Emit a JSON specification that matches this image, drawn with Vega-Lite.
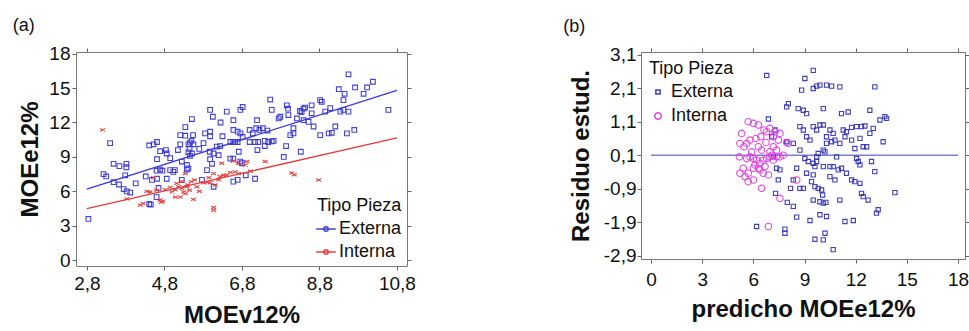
{
  "$schema": "https://vega.github.io/schema/vega-lite/v6.json",
  "background": "white",
  "padding": {"left": 12, "top": 16, "right": 2, "bottom": 0},
  "spacing": 146,
  "resolve": {"scale": {"color": "independent", "shape": "independent", "size": "independent"}, "legend": {"color": "independent", "shape": "independent", "size": "independent"}},
  "config": {
    "font": "Liberation Sans",
    "view": {"stroke": "#7a7a7a", "strokeWidth": 1},
    "axis": {
      "grid": false, "domain": false,
      "labelFont": "Liberation Sans", "labelFontSize": 19, "labelColor": "#111",
      "titleFont": "Liberation Sans", "titleFontSize": 24, "titleFontWeight": "bold", "titleColor": "#111",
      "tickColor": "#666", "tickSize": 4
    },
    "legend": {
      "titleFont": "Liberation Sans", "titleFontWeight": "normal", "titleFontSize": 18, "titleColor": "#111",
      "labelFont": "Liberation Sans", "labelFontSize": 18, "labelColor": "#111"
    },
    "title": {"font": "Liberation Sans", "fontSize": 18, "fontWeight": "normal", "color": "#111"}
  },
  "datasets": {
    "a": [
      {"x":2.84,"y":3.6,"tipo":"Externa"},{"x":3.40,"y":10.2,"tipo":"Externa"},{"x":3.23,"y":7.5,"tipo":"Externa"},{"x":3.30,"y":7.3,"tipo":"Externa"},
      {"x":3.49,"y":8.4,"tipo":"Externa"},{"x":3.64,"y":8.2,"tipo":"Externa"},{"x":3.82,"y":8.4,"tipo":"Externa"},{"x":3.82,"y":8.1,"tipo":"Externa"},
      {"x":3.49,"y":6.8,"tipo":"Externa"},{"x":3.63,"y":6.6,"tipo":"Externa"},{"x":3.75,"y":6.2,"tipo":"Externa"},{"x":3.83,"y":6.0,"tipo":"Externa"},
      {"x":3.92,"y":5.9,"tipo":"Externa"},{"x":3.79,"y":7.4,"tipo":"Externa"},{"x":4.06,"y":6.7,"tipo":"Externa"},{"x":4.32,"y":7.3,"tipo":"Externa"},
      {"x":4.41,"y":10.0,"tipo":"Externa"},{"x":4.52,"y":10.1,"tipo":"Externa"},{"x":4.61,"y":10.3,"tipo":"Externa"},{"x":4.69,"y":9.5,"tipo":"Externa"},
      {"x":4.84,"y":9.6,"tipo":"Externa"},{"x":4.86,"y":9.3,"tipo":"Externa"},{"x":4.61,"y":8.8,"tipo":"Externa"},{"x":4.69,"y":7.9,"tipo":"Externa"},
      {"x":4.60,"y":7.8,"tipo":"Externa"},{"x":4.75,"y":7.8,"tipo":"Externa"},{"x":4.61,"y":7.1,"tipo":"Externa"},{"x":4.48,"y":7.0,"tipo":"Externa"},
      {"x":4.65,"y":6.3,"tipo":"Externa"},{"x":4.41,"y":4.9,"tipo":"Externa"},{"x":4.45,"y":4.85,"tipo":"Externa"},{"x":4.60,"y":5.5,"tipo":"Externa"},
      {"x":4.95,"y":7.85,"tipo":"Externa"},{"x":5.03,"y":7.7,"tipo":"Externa"},{"x":5.07,"y":7.85,"tipo":"Externa"},{"x":4.86,"y":7.1,"tipo":"Externa"},
      {"x":5.21,"y":10.9,"tipo":"Externa"},{"x":5.34,"y":10.85,"tipo":"Externa"},{"x":5.21,"y":10.1,"tipo":"Externa"},{"x":5.34,"y":11.6,"tipo":"Externa"},
      {"x":5.51,"y":12.3,"tipo":"Externa"},{"x":5.42,"y":10.1,"tipo":"Externa"},{"x":5.46,"y":10.25,"tipo":"Externa"},{"x":5.50,"y":10.4,"tipo":"Externa"},
      {"x":5.55,"y":10.1,"tipo":"Externa"},{"x":5.54,"y":10.9,"tipo":"Externa"},{"x":5.42,"y":9.4,"tipo":"Externa"},{"x":5.51,"y":9.3,"tipo":"Externa"},
      {"x":5.45,"y":9.7,"tipo":"Externa"},{"x":5.46,"y":9.1,"tipo":"Externa"},{"x":5.38,"y":7.9,"tipo":"Externa"},{"x":5.42,"y":8.0,"tipo":"Externa"},
      {"x":5.38,"y":8.3,"tipo":"Externa"},{"x":5.25,"y":7.0,"tipo":"Externa"},{"x":5.85,"y":11.05,"tipo":"Externa"},{"x":5.98,"y":10.8,"tipo":"Externa"},
      {"x":5.98,"y":11.2,"tipo":"Externa"},{"x":5.81,"y":10.2,"tipo":"Externa"},{"x":5.98,"y":13.1,"tipo":"Externa"},{"x":6.05,"y":12.5,"tipo":"Externa"},
      {"x":5.97,"y":9.45,"tipo":"Externa"},{"x":6.07,"y":9.3,"tipo":"Externa"},{"x":6.20,"y":9.15,"tipo":"Externa"},{"x":5.98,"y":8.8,"tipo":"Externa"},
      {"x":6.03,"y":8.4,"tipo":"Externa"},{"x":6.15,"y":9.9,"tipo":"Externa"},{"x":6.24,"y":9.95,"tipo":"Externa"},{"x":5.90,"y":7.85,"tipo":"Externa"},
      {"x":5.77,"y":7.0,"tipo":"Externa"},{"x":6.07,"y":6.4,"tipo":"Externa"},{"x":6.41,"y":12.95,"tipo":"Externa"},{"x":6.58,"y":12.2,"tipo":"Externa"},
      {"x":6.76,"y":13.1,"tipo":"Externa"},{"x":6.82,"y":13.35,"tipo":"Externa"},{"x":6.58,"y":11.35,"tipo":"Externa"},{"x":6.69,"y":11.2,"tipo":"Externa"},
      {"x":6.50,"y":10.3,"tipo":"Externa"},{"x":6.58,"y":10.3,"tipo":"Externa"},{"x":6.63,"y":10.3,"tipo":"Externa"},{"x":6.69,"y":10.3,"tipo":"Externa"},
      {"x":6.76,"y":11.05,"tipo":"Externa"},{"x":6.82,"y":10.75,"tipo":"Externa"},{"x":6.50,"y":8.85,"tipo":"Externa"},{"x":6.58,"y":8.85,"tipo":"Externa"},
      {"x":6.76,"y":8.6,"tipo":"Externa"},{"x":6.80,"y":8.45,"tipo":"Externa"},{"x":6.72,"y":9.45,"tipo":"Externa"},{"x":6.58,"y":6.85,"tipo":"Externa"},
      {"x":6.69,"y":7.0,"tipo":"Externa"},{"x":7.00,"y":11.35,"tipo":"Externa"},{"x":7.08,"y":11.05,"tipo":"Externa"},{"x":7.17,"y":11.5,"tipo":"Externa"},
      {"x":7.25,"y":11.35,"tipo":"Externa"},{"x":7.34,"y":11.5,"tipo":"Externa"},{"x":7.46,"y":11.3,"tipo":"Externa"},{"x":7.19,"y":12.2,"tipo":"Externa"},
      {"x":7.00,"y":10.3,"tipo":"Externa"},{"x":7.14,"y":10.3,"tipo":"Externa"},{"x":7.22,"y":10.3,"tipo":"Externa"},{"x":7.39,"y":10.4,"tipo":"Externa"},
      {"x":7.48,"y":10.3,"tipo":"Externa"},{"x":7.57,"y":10.35,"tipo":"Externa"},{"x":7.62,"y":10.4,"tipo":"Externa"},{"x":7.39,"y":9.95,"tipo":"Externa"},
      {"x":7.14,"y":7.1,"tipo":"Externa"},{"x":7.53,"y":14.0,"tipo":"Externa"},{"x":7.57,"y":13.1,"tipo":"Externa"},{"x":7.96,"y":13.5,"tipo":"Externa"},
      {"x":7.99,"y":13.2,"tipo":"Externa"},{"x":7.79,"y":12.5,"tipo":"Externa"},{"x":7.75,"y":12.35,"tipo":"Externa"},{"x":8.00,"y":12.65,"tipo":"Externa"},
      {"x":8.05,"y":10.9,"tipo":"Externa"},{"x":8.13,"y":11.05,"tipo":"Externa"},{"x":7.94,"y":9.95,"tipo":"Externa"},{"x":7.88,"y":9.0,"tipo":"Externa"},
      {"x":8.22,"y":12.35,"tipo":"Externa"},{"x":8.30,"y":13.0,"tipo":"Externa"},{"x":8.34,"y":12.9,"tipo":"Externa"},{"x":8.39,"y":13.2,"tipo":"Externa"},
      {"x":8.43,"y":13.3,"tipo":"Externa"},{"x":8.13,"y":11.5,"tipo":"Externa"},{"x":8.39,"y":12.2,"tipo":"Externa"},{"x":8.52,"y":12.05,"tipo":"Externa"},
      {"x":8.32,"y":9.45,"tipo":"Externa"},{"x":8.60,"y":12.8,"tipo":"Externa"},{"x":8.65,"y":11.65,"tipo":"Externa"},{"x":8.60,"y":13.5,"tipo":"Externa"},
      {"x":8.82,"y":13.95,"tipo":"Externa"},{"x":8.86,"y":13.8,"tipo":"Externa"},{"x":8.82,"y":10.9,"tipo":"Externa"},{"x":9.04,"y":11.05,"tipo":"Externa"},
      {"x":9.12,"y":11.1,"tipo":"Externa"},{"x":8.95,"y":12.95,"tipo":"Externa"},{"x":9.08,"y":13.25,"tipo":"Externa"},{"x":9.21,"y":11.65,"tipo":"Externa"},
      {"x":9.34,"y":12.95,"tipo":"Externa"},{"x":9.42,"y":13.1,"tipo":"Externa"},{"x":9.30,"y":14.9,"tipo":"Externa"},{"x":9.42,"y":13.95,"tipo":"Externa"},
      {"x":9.45,"y":14.5,"tipo":"Externa"},{"x":9.55,"y":16.2,"tipo":"Externa"},{"x":9.55,"y":12.95,"tipo":"Externa"},{"x":9.72,"y":15.05,"tipo":"Externa"},
      {"x":9.94,"y":14.5,"tipo":"Externa"},{"x":10.03,"y":15.05,"tipo":"Externa"},{"x":10.18,"y":15.55,"tipo":"Externa"},{"x":9.51,"y":11.05,"tipo":"Externa"},
      {"x":9.70,"y":11.35,"tipo":"Externa"},{"x":10.58,"y":13.1,"tipo":"Externa"},{"x":5.70,"y":9.7,"tipo":"Externa"},{"x":6.30,"y":10.8,"tipo":"Externa"},
      {"x":6.25,"y":12.0,"tipo":"Externa"},{"x":5.15,"y":9.6,"tipo":"Externa"},{"x":4.95,"y":8.9,"tipo":"Externa"},{"x":5.25,"y":8.6,"tipo":"Externa"},
      {"x":6.90,"y":7.4,"tipo":"Externa"},{"x":7.20,"y":9.6,"tipo":"Externa"},
      {"x":3.21,"y":11.35,"tipo":"Interna"},{"x":3.83,"y":5.35,"tipo":"Interna"},{"x":4.18,"y":4.8,"tipo":"Interna"},{"x":4.25,"y":4.95,"tipo":"Interna"},
      {"x":4.43,"y":5.95,"tipo":"Interna"},{"x":4.35,"y":6.0,"tipo":"Interna"},{"x":4.52,"y":7.2,"tipo":"Interna"},{"x":4.60,"y":6.1,"tipo":"Interna"},
      {"x":4.69,"y":5.25,"tipo":"Interna"},{"x":4.76,"y":5.15,"tipo":"Interna"},{"x":4.72,"y":5.05,"tipo":"Interna"},{"x":4.82,"y":6.15,"tipo":"Interna"},
      {"x":5.00,"y":5.95,"tipo":"Interna"},{"x":5.08,"y":6.15,"tipo":"Interna"},{"x":5.17,"y":6.4,"tipo":"Interna"},{"x":5.25,"y":6.25,"tipo":"Interna"},
      {"x":5.30,"y":5.95,"tipo":"Interna"},{"x":5.34,"y":5.8,"tipo":"Interna"},{"x":5.38,"y":6.4,"tipo":"Interna"},{"x":5.08,"y":5.5,"tipo":"Interna"},
      {"x":5.21,"y":5.5,"tipo":"Interna"},{"x":5.34,"y":7.55,"tipo":"Interna"},{"x":5.25,"y":6.85,"tipo":"Interna"},{"x":5.40,"y":6.55,"tipo":"Interna"},
      {"x":5.49,"y":6.85,"tipo":"Interna"},{"x":5.58,"y":7.0,"tipo":"Interna"},{"x":5.64,"y":6.4,"tipo":"Interna"},{"x":5.55,"y":5.3,"tipo":"Interna"},
      {"x":5.81,"y":6.75,"tipo":"Interna"},{"x":5.90,"y":6.8,"tipo":"Interna"},{"x":5.98,"y":6.75,"tipo":"Interna"},{"x":6.07,"y":4.35,"tipo":"Interna"},
      {"x":6.07,"y":4.6,"tipo":"Interna"},{"x":6.07,"y":7.55,"tipo":"Interna"},{"x":6.11,"y":6.55,"tipo":"Interna"},{"x":6.24,"y":7.3,"tipo":"Interna"},
      {"x":6.33,"y":7.4,"tipo":"Interna"},{"x":6.41,"y":7.4,"tipo":"Interna"},{"x":6.50,"y":7.65,"tipo":"Interna"},{"x":6.63,"y":7.7,"tipo":"Interna"},
      {"x":6.71,"y":7.55,"tipo":"Interna"},{"x":6.28,"y":8.45,"tipo":"Interna"},{"x":6.58,"y":8.65,"tipo":"Interna"},{"x":6.71,"y":8.45,"tipo":"Interna"},
      {"x":6.89,"y":8.3,"tipo":"Interna"},{"x":6.93,"y":8.6,"tipo":"Interna"},{"x":7.02,"y":7.75,"tipo":"Interna"},{"x":7.40,"y":8.6,"tipo":"Interna"},
      {"x":8.09,"y":7.6,"tipo":"Interna"},{"x":8.15,"y":7.45,"tipo":"Interna"},{"x":8.78,"y":7.0,"tipo":"Interna"},{"x":5.12,"y":6.7,"tipo":"Interna"},
      {"x":4.95,"y":6.35,"tipo":"Interna"},{"x":5.70,"y":6.0,"tipo":"Interna"},{"x":6.20,"y":7.0,"tipo":"Interna"},{"x":5.45,"y":6.1,"tipo":"Interna"},
      {"x":5.95,"y":7.2,"tipo":"Interna"}
    ],
    "a_lines": [
      {"x":2.8,"y":6.2,"tipo":"Externa"},{"x":10.8,"y":14.8,"tipo":"Externa"},
      {"x":2.8,"y":4.5,"tipo":"Interna"},{"x":10.8,"y":10.65,"tipo":"Interna"}
    ],
    "b": [
      {"x":6.78,"y":2.48,"tipo":"Externa"},{"x":6.19,"y":-2.03,"tipo":"Externa"},{"x":6.88,"y":1.18,"tipo":"Externa"},{"x":7.07,"y":0.65,"tipo":"Externa"},
      {"x":7.27,"y":0.85,"tipo":"Externa"},{"x":7.36,"y":-0.29,"tipo":"Externa"},{"x":7.56,"y":-0.34,"tipo":"Externa"},{"x":7.46,"y":-0.64,"tipo":"Externa"},
      {"x":7.30,"y":-1.04,"tipo":"Externa"},{"x":7.85,"y":-2.11,"tipo":"Externa"},{"x":7.85,"y":-2.23,"tipo":"Externa"},{"x":7.95,"y":1.54,"tipo":"Externa"},
      {"x":8.05,"y":1.64,"tipo":"Externa"},{"x":7.95,"y":0.50,"tipo":"Externa"},{"x":7.99,"y":-1.31,"tipo":"Externa"},{"x":8.34,"y":-1.43,"tipo":"Externa"},
      {"x":8.54,"y":-1.75,"tipo":"Externa"},{"x":8.18,"y":-0.89,"tipo":"Externa"},{"x":8.73,"y":-0.89,"tipo":"Externa"},{"x":8.93,"y":-0.89,"tipo":"Externa"},
      {"x":8.73,"y":0.95,"tipo":"Externa"},{"x":8.93,"y":0.85,"tipo":"Externa"},{"x":8.83,"y":2.04,"tipo":"Externa"},{"x":8.63,"y":1.49,"tipo":"Externa"},
      {"x":8.93,"y":1.44,"tipo":"Externa"},{"x":9.12,"y":1.34,"tipo":"Externa"},{"x":9.12,"y":0.65,"tipo":"Externa"},{"x":9.32,"y":0.55,"tipo":"Externa"},
      {"x":9.02,"y":0.0,"tipo":"Externa"},{"x":9.22,"y":-0.09,"tipo":"Externa"},{"x":9.32,"y":-1.85,"tipo":"Externa"},{"x":9.51,"y":2.09,"tipo":"Externa"},
      {"x":9.71,"y":2.16,"tipo":"Externa"},{"x":9.90,"y":2.19,"tipo":"Externa"},{"x":9.51,"y":2.63,"tipo":"Externa"},{"x":9.02,"y":2.39,"tipo":"Externa"},
      {"x":9.51,"y":0.95,"tipo":"Externa"},{"x":9.71,"y":0.85,"tipo":"Externa"},{"x":9.90,"y":1.0,"tipo":"Externa"},{"x":10.10,"y":1.0,"tipo":"Externa"},
      {"x":9.71,"y":0.05,"tipo":"Externa"},{"x":9.80,"y":0.15,"tipo":"Externa"},{"x":9.51,"y":-0.14,"tipo":"Externa"},{"x":9.71,"y":-0.09,"tipo":"Externa"},
      {"x":9.61,"y":-0.24,"tipo":"Externa"},{"x":9.41,"y":-0.69,"tipo":"Externa"},{"x":9.51,"y":-0.49,"tipo":"Externa"},{"x":9.61,"y":-0.84,"tipo":"Externa"},
      {"x":9.80,"y":-0.89,"tipo":"Externa"},{"x":10.0,"y":-0.94,"tipo":"Externa"},{"x":10.06,"y":-1.09,"tipo":"Externa"},{"x":9.51,"y":-1.24,"tipo":"Externa"},
      {"x":9.90,"y":-1.29,"tipo":"Externa"},{"x":10.10,"y":-1.33,"tipo":"Externa"},{"x":10.25,"y":-1.31,"tipo":"Externa"},{"x":9.61,"y":-2.41,"tipo":"Externa"},
      {"x":10.10,"y":-2.43,"tipo":"Externa"},{"x":10.20,"y":-2.23,"tipo":"Externa"},{"x":9.90,"y":-1.68,"tipo":"Externa"},{"x":10.68,"y":-2.72,"tipo":"Externa"},
      {"x":10.10,"y":1.49,"tipo":"Externa"},{"x":10.29,"y":2.19,"tipo":"Externa"},{"x":10.59,"y":2.16,"tipo":"Externa"},{"x":11.07,"y":2.14,"tipo":"Externa"},
      {"x":10.49,"y":0.85,"tipo":"Externa"},{"x":10.68,"y":0.75,"tipo":"Externa"},{"x":10.29,"y":0.45,"tipo":"Externa"},{"x":10.59,"y":0.50,"tipo":"Externa"},
      {"x":10.78,"y":0.55,"tipo":"Externa"},{"x":10.10,"y":0.25,"tipo":"Externa"},{"x":10.20,"y":0.20,"tipo":"Externa"},{"x":10.68,"y":-0.24,"tipo":"Externa"},
      {"x":10.98,"y":-0.34,"tipo":"Externa"},{"x":11.17,"y":-0.29,"tipo":"Externa"},{"x":10.49,"y":-0.54,"tipo":"Externa"},{"x":10.78,"y":-0.64,"tipo":"Externa"},
      {"x":11.07,"y":-1.24,"tipo":"Externa"},{"x":10.29,"y":-1.73,"tipo":"Externa"},{"x":10.49,"y":-0.24,"tipo":"Externa"},{"x":11.37,"y":-1.88,"tipo":"Externa"},
      {"x":11.86,"y":-1.85,"tipo":"Externa"},{"x":11.17,"y":1.34,"tipo":"Externa"},{"x":11.56,"y":1.39,"tipo":"Externa"},{"x":11.27,"y":0.85,"tipo":"Externa"},
      {"x":11.46,"y":0.80,"tipo":"Externa"},{"x":11.76,"y":0.93,"tipo":"Externa"},{"x":11.37,"y":0.65,"tipo":"Externa"},{"x":11.76,"y":0.55,"tipo":"Externa"},
      {"x":12.05,"y":0.95,"tipo":"Externa"},{"x":12.34,"y":0.95,"tipo":"Externa"},{"x":12.05,"y":0.0,"tipo":"Externa"},{"x":12.15,"y":-0.09,"tipo":"Externa"},
      {"x":12.25,"y":-0.19,"tipo":"Externa"},{"x":11.76,"y":-0.64,"tipo":"Externa"},{"x":11.95,"y":-0.69,"tipo":"Externa"},{"x":12.25,"y":-0.74,"tipo":"Externa"},
      {"x":12.34,"y":-1.04,"tipo":"Externa"},{"x":12.44,"y":-1.14,"tipo":"Externa"},{"x":12.73,"y":-1.24,"tipo":"Externa"},{"x":12.54,"y":0.97,"tipo":"Externa"},
      {"x":12.64,"y":0.35,"tipo":"Externa"},{"x":12.83,"y":1.44,"tipo":"Externa"},{"x":13.03,"y":0.90,"tipo":"Externa"},{"x":13.12,"y":2.14,"tipo":"Externa"},
      {"x":12.93,"y":-0.09,"tipo":"Externa"},{"x":13.12,"y":-0.39,"tipo":"Externa"},{"x":13.22,"y":-1.63,"tipo":"Externa"},{"x":13.32,"y":-1.53,"tipo":"Externa"},
      {"x":13.42,"y":1.15,"tipo":"Externa"},{"x":13.71,"y":1.25,"tipo":"Externa"},{"x":13.81,"y":1.20,"tipo":"Externa"},{"x":13.61,"y":0.50,"tipo":"Externa"},
      {"x":14.30,"y":-1.02,"tipo":"Externa"},{"x":12.44,"y":0.35,"tipo":"Externa"},{"x":12.25,"y":0.60,"tipo":"Externa"},{"x":8.34,"y":-0.64,"tipo":"Externa"},
      {"x":8.54,"y":-0.29,"tipo":"Externa"},{"x":7.17,"y":0.05,"tipo":"Externa"},{"x":11.07,"y":0.45,"tipo":"Externa"},{"x":10.88,"y":0.05,"tipo":"Externa"},
      {"x":11.46,"y":-0.44,"tipo":"Externa"},{"x":10.10,"y":-0.24,"tipo":"Externa"},{"x":10.29,"y":0.65,"tipo":"Externa"},{"x":11.95,"y":0.30,"tipo":"Externa"},
      {"x":12.83,"y":0.75,"tipo":"Externa"},{"x":8.34,"y":0.45,"tipo":"Externa"},{"x":9.12,"y":-0.44,"tipo":"Externa"},{"x":8.73,"y":0.25,"tipo":"Externa"},
      {"x":5.21,"y":0.45,"tipo":"Interna"},{"x":5.18,"y":0.05,"tipo":"Interna"},{"x":5.45,"y":0.35,"tipo":"Interna"},{"x":5.61,"y":0.45,"tipo":"Interna"},
      {"x":5.80,"y":0.55,"tipo":"Interna"},{"x":5.70,"y":1.10,"tipo":"Interna"},{"x":6.00,"y":1.05,"tipo":"Interna"},{"x":6.29,"y":1.00,"tipo":"Interna"},
      {"x":5.41,"y":-0.29,"tipo":"Interna"},{"x":5.51,"y":-0.54,"tipo":"Interna"},{"x":5.70,"y":-0.44,"tipo":"Interna"},{"x":6.00,"y":-0.64,"tipo":"Interna"},
      {"x":5.80,"y":0.05,"tipo":"Interna"},{"x":6.00,"y":0.0,"tipo":"Interna"},{"x":6.19,"y":-0.05,"tipo":"Interna"},{"x":6.39,"y":-0.14,"tipo":"Interna"},
      {"x":6.09,"y":-0.19,"tipo":"Interna"},{"x":6.29,"y":0.35,"tipo":"Interna"},{"x":6.48,"y":0.25,"tipo":"Interna"},{"x":6.62,"y":0.85,"tipo":"Interna"},
      {"x":6.78,"y":0.80,"tipo":"Interna"},{"x":6.97,"y":0.90,"tipo":"Interna"},{"x":7.27,"y":0.80,"tipo":"Interna"},{"x":7.56,"y":0.75,"tipo":"Interna"},
      {"x":6.48,"y":-0.89,"tipo":"Interna"},{"x":6.88,"y":-2.03,"tipo":"Interna"},{"x":6.58,"y":-0.05,"tipo":"Interna"},{"x":6.78,"y":0.0,"tipo":"Interna"},
      {"x":6.97,"y":0.05,"tipo":"Interna"},{"x":7.07,"y":0.10,"tipo":"Interna"},{"x":7.17,"y":-0.05,"tipo":"Interna"},{"x":7.36,"y":0.05,"tipo":"Interna"},
      {"x":6.39,"y":-0.34,"tipo":"Interna"},{"x":6.58,"y":-0.44,"tipo":"Interna"},{"x":6.88,"y":-0.49,"tipo":"Interna"},{"x":7.17,"y":0.35,"tipo":"Interna"},
      {"x":7.36,"y":0.25,"tipo":"Interna"},{"x":7.56,"y":0.05,"tipo":"Interna"},{"x":7.75,"y":0.10,"tipo":"Interna"},{"x":7.95,"y":0.48,"tipo":"Interna"},
      {"x":8.05,"y":0.45,"tipo":"Interna"},{"x":8.54,"y":-0.64,"tipo":"Interna"},{"x":6.74,"y":0.48,"tipo":"Interna"},{"x":5.61,"y":0.0,"tipo":"Interna"},
      {"x":5.90,"y":0.20,"tipo":"Interna"},{"x":6.15,"y":0.60,"tipo":"Interna"},{"x":6.43,"y":0.65,"tipo":"Interna"},{"x":7.17,"y":0.65,"tipo":"Interna"},
      {"x":6.29,"y":-0.29,"tipo":"Interna"},{"x":5.21,"y":-0.44,"tipo":"Interna"},{"x":5.70,"y":-0.69,"tipo":"Interna"},{"x":6.97,"y":0.20,"tipo":"Interna"},
      {"x":7.46,"y":0.55,"tipo":"Interna"},{"x":5.31,"y":0.75,"tipo":"Interna"},{"x":6.68,"y":-0.24,"tipo":"Interna"},{"x":6.00,"y":-0.29,"tipo":"Interna"},
      {"x":7.56,"y":-1.19,"tipo":"Interna"}
    ],
    "b_line": [{"x":0,"y":0.1},{"x":18,"y":0.1}]
  },
  "hconcat": [
    {
      "width": 331, "height": 214,
      "title": {"text": "(a)", "anchor": "start", "frame": "bounds", "offset": 10, "dx": -6},
      "layer": [
        {
          "data": {"name": "a"},
          "transform": [{"filter": "datum.tipo === 'Externa'"}],
          "mark": {"type": "point", "shape": "square", "filled": false, "strokeWidth": 1.1, "opacity": 0.95, "size": 22},
          "encoding": {
            "x": {"field": "x", "type": "quantitative",
              "scale": {"domain": [2.52, 11.06], "nice": false, "zero": false},
              "axis": {"orient": "bottom", "values": [2.8, 4.8, 6.8, 8.8, 10.8], "labelExpr": "replace(toString(datum.value), '.', ',')", "title": "MOEv12%", "labelPadding": 4, "titlePadding": 10}},
            "y": {"field": "y", "type": "quantitative",
              "scale": {"domain": [-0.5, 18.14], "nice": false, "zero": false},
              "axis": {"orient": "left", "values": [0, 3, 6, 9, 12, 15, 18], "title": "MOEe12%", "labelPadding": 2, "titlePadding": 6}},
            "color": {"field": "tipo", "type": "nominal",
              "scale": {"domain": ["Externa", "Interna"], "range": ["#3a3ad2", "#e23a3a"]},
              "legend": {"title": "Tipo Pieza", "orient": "bottom-right", "offset": 5, "rowPadding": 5, "symbolType": "M-1.5,0L1.5,0M-0.35,0A0.35,0.35,0,1,1,0.35,0A0.35,0.35,0,1,1,-0.35,0", "symbolSize": 170, "symbolStrokeWidth": 1.4}}
          }
        },
        {
          "data": {"name": "a"},
          "transform": [{"filter": "datum.tipo === 'Interna'"}],
          "mark": {"type": "point", "shape": "M-1,-0.6L1,0.6M-1,0.6L1,-0.6", "filled": false, "strokeWidth": 1.1, "opacity": 0.95, "size": 24},
          "encoding": {
            "x": {"field": "x", "type": "quantitative", "axis": null},
            "y": {"field": "y", "type": "quantitative", "axis": null},
            "color": {"field": "tipo", "type": "nominal"}
          }
        },
        {
          "data": {"name": "a_lines"},
          "mark": {"type": "line", "strokeWidth": 1.3},
          "encoding": {
            "x": {"field": "x", "type": "quantitative", "axis": {"orient": "top", "values": [2.8, 4.8, 6.8, 8.8, 10.8], "labels": false, "title": null}},
            "y": {"field": "y", "type": "quantitative", "axis": {"orient": "right", "values": [0, 3, 6, 9, 12, 15, 18], "labels": false, "title": null}},
            "color": {"field": "tipo", "type": "nominal"}
          }
        }
      ]
    },
    {
      "width": 324, "height": 207,
      "title": {"text": "(b)", "anchor": "start", "frame": "bounds", "offset": 10, "dx": -6},
      "layer": [
        {
          "data": {"name": "b_line"},
          "mark": {"type": "line", "color": "#7f7fd2", "strokeWidth": 1.5},
          "encoding": {
            "x": {"field": "x", "type": "quantitative",
              "scale": {"domain": [-0.59, 18.41], "nice": false, "zero": false},
              "axis": {"orient": "top", "values": [0, 3, 6, 9, 12, 15, 18], "labels": false, "title": null}},
            "y": {"field": "y", "type": "quantitative",
              "scale": {"domain": [-3.0, 3.18], "nice": false, "zero": false},
              "axis": {"orient": "right", "values": [-2.9, -1.9, -0.9, 0.1, 1.1, 2.1, 3.1], "labels": false, "title": null}}
          }
        },
        {
          "data": {"name": "b"},
          "mark": {"type": "point", "filled": false, "strokeWidth": 1.1, "opacity": 0.95},
          "encoding": {
            "x": {"field": "x", "type": "quantitative",
              "axis": {"orient": "bottom", "values": [0, 3, 6, 9, 12, 15, 18], "title": "predicho MOEe12%", "labelPadding": 7, "titlePadding": 8}},
            "y": {"field": "y", "type": "quantitative",
              "axis": {"orient": "left", "values": [-2.9, -1.9, -0.9, 0.1, 1.1, 2.1, 3.1], "labelExpr": "replace(toString(datum.value), '.', ',')", "title": "Residuo estud.", "labelPadding": 1, "titlePadding": 10}},
            "color": {"field": "tipo", "type": "nominal",
              "scale": {"domain": ["Externa", "Interna"], "range": ["#3636b8", "#e03ee0"]},
              "legend": {"title": "Tipo Pieza", "orient": "top-left", "offset": 8, "rowPadding": 6}},
            "shape": {"field": "tipo", "type": "nominal",
              "scale": {"domain": ["Externa", "Interna"], "range": ["square", "circle"]}},
            "size": {"field": "tipo", "type": "nominal",
              "scale": {"domain": ["Externa", "Interna"], "range": [18, 42]}, "legend": null}
          }
        }
      ]
    }
  ]
}
